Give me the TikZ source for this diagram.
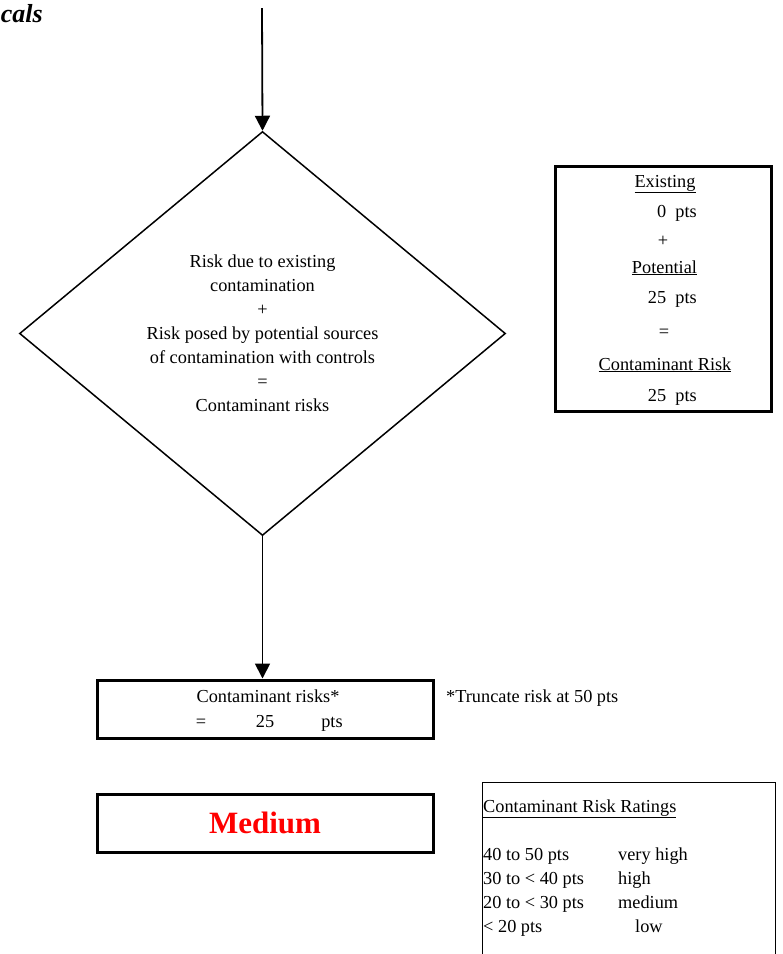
\documentclass[tikz,border=0pt]{standalone}
\usepackage{fontspec}
\setmainfont{Liberation Serif}
\usepackage{tikz}
\usetikzlibrary{arrows.meta,positioning,shapes.geometric}

\begin{document}
\begin{tikzpicture}[
    x=1pt, y=-1pt,
    font=\fontsize{18.3}{24}\selectfont,
    decision/.style={draw, diamond, line width=1.5pt, align=center, inner sep=0pt,
      minimum width=486pt, minimum height=404pt},
    thickbox/.style={draw, line width=3pt, inner sep=0pt},
    thinbox/.style={draw, line width=1.4pt, inner sep=0pt},
    txt/.style={inner sep=0pt, anchor=base},
    arr/.style={-{Triangle[length=15pt, width=15pt]}, line width=1.8pt},
  ]
    \useasboundingbox (0,0) rectangle (783,954);
    \clip (0,0) rectangle (783,954);

    \node[txt, anchor=base east, font=\fontsize{26}{30}\selectfont\bfseries\itshape]
      (heading) at (43,22) {cals};

    % main flow
    \coordinate (start) at (262,8);
    \node[decision] (combine) at (262.5,333.5)
      {Risk due to existing\\contamination\\+\\Risk posed by potential sources\\
       of contamination with controls\\=\\Contaminant risks};
    \draw[arr] (start) -- (combine.north);

    \node[thickbox, minimum width=336pt, minimum height=58pt] (riskbox) at (265,709) {};
    \node[txt] (risklabel) at (268,702) {Contaminant risks*};
    \node[txt] (riskeq) at (201,727) {=};
    \node[txt] (riskval) at (265,727) {25};
    \node[txt] (riskunit) at (332,727) {pts};
    \draw[arr] (combine.south) -- (combine.south |- riskbox.north);
    \node[txt, anchor=base west] (truncate) at (446,702) {*Truncate risk at 50 pts};

    \node[thickbox, minimum width=336pt, minimum height=58pt, text=red,
      font=\fontsize{31}{36}\selectfont\bfseries] (rating) at (265,823) {Medium};

    % summary box
    \node[thickbox, minimum width=216pt, minimum height=245pt] (sumbox) at (663.5,288.5) {};
    \node[txt] (existing) at (665,187) {\underline{Existing}};
    \node[txt, anchor=base east] (existpts) at (697,217) {0\ \ pts};
    \node[txt] (plus) at (663,246) {+};
    \node[txt] (potential) at (664.5,273) {\underline{Potential}};
    \node[txt, anchor=base east] (potpts) at (697,303) {25\ \ pts};
    \node[txt] (equals) at (664,337.5) {=};
    \node[txt] (total) at (665,370) {\underline{Contaminant Risk}};
    \node[txt, anchor=base east] (totalpts) at (697,401) {25\ \ pts};

    % rating scale
    \node[thinbox, anchor=north west, minimum width=293pt, minimum height=200pt]
      (scale) at (482,782) {};
    \node[txt, anchor=base west] (scaletitle) at (483,812) {\underline{Contaminant Risk Ratings}};
    \foreach \range/\level/\lx [count=\i] in
        {40 to 50 pts/very high/618, 30 to < 40 pts/high/618,
         20 to < 30 pts/medium/618, < 20 pts/low/635} {
      \node[txt, anchor=base west] (range\i) at (483,836+24*\i) {\range};
      \node[txt, anchor=base west] (level\i) at (\lx,836+24*\i) {\level};
    }
  \end{tikzpicture}
\end{document}
